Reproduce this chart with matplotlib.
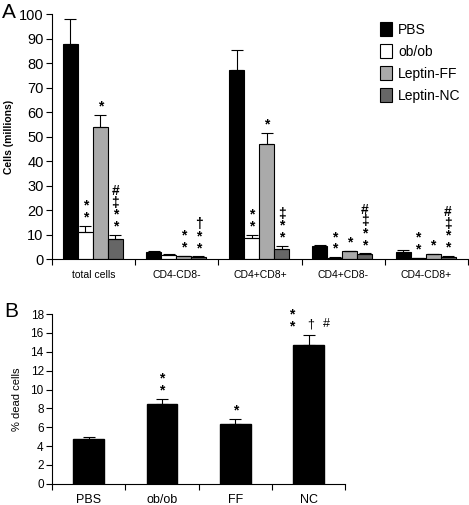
import numpy as np
import matplotlib.pyplot as plt

plt.rcParams['font.family'] = ['Liberation Sans', 'DejaVu Sans']

# Panel A data
grupos = ['total cells', 'CD4-CD8-', 'CD4+CD8+', 'CD4+CD8-', 'CD4-CD8+']
series = ['PBS', 'ob/ob', 'Leptin-FF', 'Leptin-NC']
pbs = [88, 3.0, 77, 5.5, 3.0]
obob = [11, 1.5, 8.5, 0.6, 0.3]
lep_ff = [54, 1.3, 47, 3.2, 2.0]
lep_nc = [8, 0.8, 4.0, 2.0, 1.0]
err_pbs = [10, 0.3, 8.5, 0.3, 0.9]
err_obob = [2.6, 0.7, 1.5, 0.1, 0.1]
err_ff = [4.8, 0.1, 4.5, 0.2, 0.2]
err_nc = [2.0, 0.3, 1.5, 0.3, 0.2]
# marcas de significancia (grupo, serie, texto)
marcas_A = [
    (0, 1, '*\n*'), (0, 2, '*'), (0, 3, '#\n‡\n*\n*'),
    (1, 2, '*\n*'), (1, 3, '†\n*\n*'),
    (2, 1, '*\n*'), (2, 2, '*'), (2, 3, '‡\n*\n*'),
    (3, 1, '*\n*'), (3, 2, '*'), (3, 3, '#\n‡\n*\n*'),
    (4, 1, '*\n*'), (4, 2, '*'), (4, 3, '#\n‡\n*\n*'),
]

# Panel B data
cond_B = ['PBS', 'ob/ob', 'FF', 'NC']
mortas = [4.75, 8.5, 6.3, 14.7]
err_mortas = [0.25, 0.5, 0.55, 1.1]
marcas_B = {1: '*\n*', 2: '*'}

cores = ['black', 'white', '#aaaaaa', '#666666']
est_marca = dict(ha='center', va='bottom', fontsize=10, linespacing=0.8,
                 fontweight='bold', textcoords='offset points', xytext=(0, 1))

fig = plt.figure(figsize=(4.69, 5.05), dpi=100)

# ---------- Painel A ----------
axA = fig.add_axes([0.111, 0.487, 0.887, 0.485])
x = np.arange(len(grupos)) + 0.5
w = 0.18
offs = np.array([-1.5, -0.5, 0.5, 1.5]) * w - 0.01
valores = [pbs, obob, lep_ff, lep_nc]
erros = [err_pbs, err_obob, err_ff, err_nc]
for i in range(4):
    v = np.array(valores[i])
    e = np.array(erros[i])
    axA.bar(x + offs[i], v, w, color=cores[i], edgecolor='black', linewidth=0.8,
            label=series[i], zorder=2)
    axA.errorbar(x + offs[i], v, yerr=[np.zeros_like(e), e], fmt='none',
                 ecolor='black', elinewidth=0.8, capsize=4, capthick=0.8, zorder=3)

for g, s, txt in marcas_A:
    topo = valores[s][g] + erros[s][g]
    axA.annotate(txt, (x[g] + offs[s], topo), **est_marca)

axA.set_xlim(0, len(grupos))
axA.set_ylim(0, 100)
axA.set_yticks(np.arange(0, 101, 10))
axA.set_xticks(np.arange(0, len(grupos) + 1))
axA.set_xticklabels([])
axA.set_xticks(x, minor=True)
axA.set_xticklabels(grupos, minor=True, fontsize=7.5)
axA.tick_params(axis='x', which='minor', length=0, pad=8)
axA.tick_params(axis='x', which='major', length=4, direction='out')
axA.tick_params(axis='y', labelsize=10.5, length=4, pad=2)
axA.set_ylabel('Cells (millions)', fontsize=7.5, fontweight='bold', labelpad=4)
for lado in ['top', 'right']:
    axA.spines[lado].set_visible(False)
axA.legend(loc='upper left', bbox_to_anchor=(0.758, 1.02), frameon=False, fontsize=10,
           handlelength=0.9, handleheight=1.25, handletextpad=0.4, labelspacing=0.5)
fig.text(0.004, 0.995, 'A', fontsize=15, va='top')

# ---------- Painel B ----------
axB = fig.add_axes([0.111, 0.042, 0.625, 0.336])
xb = np.arange(len(cond_B)) + 0.5
axB.bar(xb, mortas, 0.42, color='black', edgecolor='black', zorder=2)
axB.errorbar(xb, mortas, yerr=[np.zeros(len(err_mortas)), err_mortas], fmt='none',
             ecolor='black', elinewidth=0.8, capsize=4, capthick=0.8, zorder=3)
for i, txt in marcas_B.items():
    topo = mortas[i] + err_mortas[i]
    axB.annotate(txt, (xb[i], topo), **est_marca)
# marcas do NC
topo_nc = mortas[3] + err_mortas[3]
axB.annotate('*\n*', (xb[3] - 0.23, topo_nc), **est_marca)
axB.text(xb[3] + 0.03, 16.9, '†', fontsize=9, ha='center', va='center')
axB.text(xb[3] + 0.24, 16.9, '#', fontsize=9, ha='center', va='center')

axB.set_xlim(0, len(cond_B))
axB.set_ylim(0, 18)
axB.set_yticks(np.arange(0, 19, 2))
axB.set_xticks(np.arange(0, len(cond_B) + 1))
axB.set_xticklabels([])
axB.set_xticks(xb, minor=True)
axB.set_xticklabels(cond_B, minor=True, fontsize=9)
axB.tick_params(axis='x', which='minor', length=0, pad=7)
axB.tick_params(axis='x', which='major', length=4, direction='out')
axB.tick_params(axis='y', labelsize=8.5, length=4, pad=2)
axB.set_ylabel('% dead cells', fontsize=8, labelpad=6)
for lado in ['top', 'right']:
    axB.spines[lado].set_visible(False)
fig.text(0.008, 0.402, 'B', fontsize=15, va='top')

fig.savefig('out.png', dpi=100)
